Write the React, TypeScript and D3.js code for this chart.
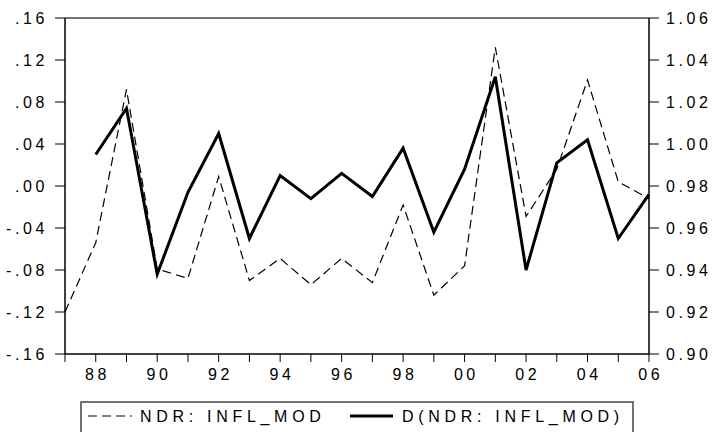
import React from 'react'
import * as d3 from 'd3'

// years 1987..2006
const years = d3.range(1987, 2007)
const yearLabels = ['88', '90', '92', '94', '96', '98', '00', '02', '04', '06']

// NDR: INFL_MOD (left axis, dashed)
const inflMod = [
  -0.120, -0.054, 0.092, -0.079, -0.088, 0.009, -0.090, -0.069, -0.094, -0.069,
  -0.092, -0.018, -0.104, -0.076, 0.132, -0.029, 0.016, 0.101, 0.004, -0.012,
]
// D(NDR: INFL_MOD) (right axis, solid), starts 1988
const dInflMod = [
  null, 0.995, 1.017, 0.938, 0.977, 1.005, 0.955, 0.985, 0.974, 0.986,
  0.975, 0.998, 0.958, 0.988, 1.032, 0.940, 0.991, 1.002, 0.955, 0.976,
]

const leftTicks = [0.16, 0.12, 0.08, 0.04, 0, -0.04, -0.08, -0.12, -0.16]
const leftTickLabels = ['.16', '.12', '.08', '.04', '.00', '-.04', '-.08', '-.12', '-.16']
const rightTicks = [1.06, 1.04, 1.02, 1.0, 0.98, 0.96, 0.94, 0.92, 0.9]
const rightTickLabels = ['1.06', '1.04', '1.02', '1.00', '0.98', '0.96', '0.94', '0.92', '0.90']

const seriesNames = ['NDR: INFL_MOD', 'D(NDR: INFL_MOD)']

const W = 714
const H = 432
const left = 65
const right = 649
const top = 18
const bottom = 354
const font = '"Liberation Sans", Arial, sans-serif'

export default function App() {
  const x = d3.scaleLinear().domain([1987, 2006]).range([left, right])
  const yL = d3.scaleLinear().domain([-0.16, 0.16]).range([bottom, top])
  const yR = d3.scaleLinear().domain([0.9, 1.06]).range([bottom, top])

  const dashedLine = d3.line<number>()
    .x((d, i) => x(years[i]))
    .y((d) => yL(d))

  const solidPts = years
    .map((yr, i) => ({ yr, v: dInflMod[i] }))
    .filter((d) => d.v !== null) as { yr: number; v: number }[]
  const solidLine = d3.line<{ yr: number; v: number }>()
    .x((d) => x(d.yr))
    .y((d) => yR(d.v))

  const txt = { fontFamily: font, fontSize: 16, letterSpacing: 3.6, fill: '#000' }
  const legTxt = { ...txt, letterSpacing: 4.7 }

  return (
    <svg width={W} height={H} style={{ position: 'absolute', left: 0, top: 0, background: '#fff' }}>
      {/* frame */}
      <line x1={left} x2={right} y1={top} y2={top} stroke="#444" strokeWidth={1.5} />
      <line x1={left} x2={left} y1={top} y2={bottom} stroke="#000" strokeWidth={1.5} />
      <line x1={right} x2={right} y1={top} y2={bottom} stroke="#000" strokeWidth={1.5} />
      <line x1={left} x2={right} y1={bottom} y2={bottom} stroke="#000" strokeWidth={1.5} />

      {/* left axis */}
      {leftTicks.map((t, i) => (
        <g key={'l' + i}>
          <line x1={left - 10} x2={left} y1={yL(t)} y2={yL(t)} stroke="#000" strokeWidth={1} />
          <text x={48} y={yL(t)} dy="0.36em" textAnchor="end" {...txt}>{leftTickLabels[i]}</text>
        </g>
      ))}

      {/* right axis */}
      {rightTicks.map((t, i) => (
        <g key={'r' + i}>
          <line x1={right} x2={right + 10} y1={yR(t)} y2={yR(t)} stroke="#000" strokeWidth={1} />
          <text x={666} y={yR(t)} dy="0.36em" {...txt}>{rightTickLabels[i]}</text>
        </g>
      ))}

      {/* bottom axis */}
      {years.map((yr) => (
        <line key={'b' + yr} x1={x(yr)} x2={x(yr)} y1={bottom} y2={bottom + 8} stroke="#000" strokeWidth={1} />
      ))}
      {yearLabels.map((lab, i) => (
        <text key={'bl' + lab} x={x(1988 + i * 2) + 1.8} y={380} textAnchor="middle" {...txt}>{lab}</text>
      ))}

      {/* series */}
      <path d={dashedLine(inflMod) || ''} fill="none" stroke="#000" strokeWidth={1.2} strokeDasharray="9,5" />
      <path d={solidLine(solidPts) || ''} fill="none" stroke="#000" strokeWidth={3} strokeLinejoin="miter" />

      {/* legend */}
      <rect x={81} y={402} width={552} height={40} fill="none" stroke="#444" strokeWidth={1.5} />
      <line x1={88} x2={132} y1={416} y2={416} stroke="#000" strokeWidth={1.2} strokeDasharray="9,5" />
      <text x={140} y={421.5} {...legTxt}>{seriesNames[0]}</text>
      <line x1={350} x2={393} y1={416} y2={416} stroke="#000" strokeWidth={3} />
      <text x={402} y={421.5} {...legTxt}>{seriesNames[1]}</text>
    </svg>
  )
}
